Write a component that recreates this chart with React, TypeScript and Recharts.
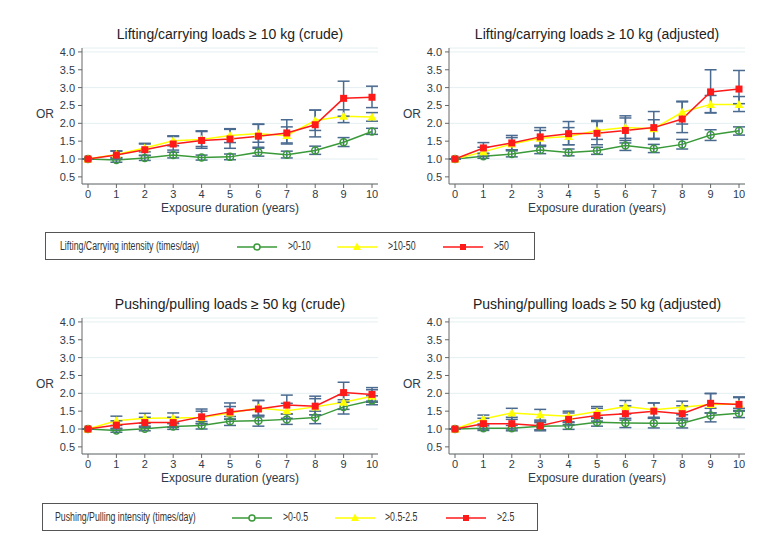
import { LineChart, Line, XAxis, YAxis, CartesianGrid, ErrorBar } from "recharts"

const years = [0, 1, 2, 3, 4, 5, 6, 7, 8, 9, 10]
const yTicks = [0.5, 1, 1.5, 2, 2.5, 3, 3.5, 4]

// Lifting/carrying, crude
const liftCrudeG = [1.0, 0.97, 1.03, 1.11, 1.04, 1.06, 1.19, 1.12, 1.24, 1.47, 1.77]
const liftCrudeGLo = [1.0, 0.91, 0.96, 1.03, 0.97, 0.98, 1.08, 1.03, 1.13, 1.35, 1.69]
const liftCrudeGHi = [1.0, 1.03, 1.1, 1.19, 1.11, 1.14, 1.3, 1.22, 1.36, 1.6, 1.86]
const liftCrudeY = [1.0, 1.13, 1.31, 1.51, 1.55, 1.66, 1.71, 1.66, 2.08, 2.2, 2.18]
const liftCrudeYLo = [1.0, 1.04, 1.2, 1.37, 1.35, 1.46, 1.47, 1.45, 1.8, 2.02, 2.06]
const liftCrudeYHi = [1.0, 1.23, 1.42, 1.65, 1.77, 1.85, 1.97, 1.9, 2.37, 2.38, 2.3]
const liftCrudeR = [1.0, 1.11, 1.26, 1.42, 1.52, 1.56, 1.64, 1.73, 1.96, 2.7, 2.73]
const liftCrudeRLo = [1.0, 1.0, 1.1, 1.25, 1.3, 1.3, 1.33, 1.42, 1.62, 2.2, 2.44]
const liftCrudeRHi = [1.0, 1.22, 1.44, 1.63, 1.79, 1.83, 1.98, 2.1, 2.37, 3.18, 3.04]

// Lifting/carrying, adjusted
const liftAdjG = [1.0, 1.08, 1.14, 1.25, 1.18, 1.23, 1.38, 1.29, 1.41, 1.67, 1.79]
const liftAdjGLo = [1.0, 1.02, 1.06, 1.15, 1.09, 1.13, 1.24, 1.18, 1.28, 1.52, 1.67]
const liftAdjGHi = [1.0, 1.15, 1.23, 1.35, 1.28, 1.33, 1.52, 1.41, 1.55, 1.82, 1.9]
const liftAdjY = [1.0, 1.2, 1.42, 1.58, 1.63, 1.8, 1.88, 1.85, 2.31, 2.53, 2.53]
const liftAdjYLo = [1.0, 1.08, 1.26, 1.38, 1.4, 1.55, 1.58, 1.58, 1.98, 2.29, 2.33]
const liftAdjYHi = [1.0, 1.33, 1.6, 1.8, 1.88, 2.05, 2.15, 2.1, 2.62, 2.78, 2.75]
const liftAdjR = [1.0, 1.31, 1.45, 1.62, 1.71, 1.72, 1.8, 1.88, 2.12, 2.88, 2.96]
const liftAdjRLo = [1.0, 1.16, 1.26, 1.38, 1.4, 1.4, 1.45, 1.55, 1.74, 2.3, 2.55]
const liftAdjRHi = [1.0, 1.46, 1.66, 1.88, 2.05, 2.08, 2.21, 2.33, 2.6, 3.5, 3.48]

// Pushing/pulling, crude
const pushCrudeG = [1.0, 0.96, 1.01, 1.07, 1.1, 1.22, 1.23, 1.27, 1.32, 1.62, 1.8]
const pushCrudeGLo = [1.0, 0.91, 0.95, 0.99, 1.0, 1.1, 1.08, 1.13, 1.15, 1.42, 1.68]
const pushCrudeGHi = [1.0, 1.02, 1.08, 1.15, 1.21, 1.35, 1.38, 1.42, 1.5, 1.82, 1.93]
const pushCrudeY = [1.0, 1.23, 1.3, 1.31, 1.32, 1.45, 1.59, 1.51, 1.62, 1.75, 1.92]
const pushCrudeYLo = [1.0, 1.1, 1.16, 1.17, 1.15, 1.27, 1.38, 1.3, 1.4, 1.55, 1.75]
const pushCrudeYHi = [1.0, 1.36, 1.44, 1.45, 1.5, 1.63, 1.8, 1.72, 1.85, 1.95, 2.1]
const pushCrudeR = [1.0, 1.11, 1.18, 1.18, 1.34, 1.48, 1.56, 1.67, 1.64, 2.02, 1.97]
const pushCrudeRLo = [1.0, 1.0, 1.05, 1.05, 1.15, 1.28, 1.34, 1.42, 1.4, 1.75, 1.78]
const pushCrudeRHi = [1.0, 1.23, 1.33, 1.33, 1.56, 1.73, 1.8, 1.95, 1.92, 2.31, 2.16]

// Pushing/pulling, adjusted
const pushAdjG = [1.0, 1.02, 1.02, 1.08, 1.09, 1.19, 1.17, 1.16, 1.16, 1.38, 1.44]
const pushAdjGLo = [1.0, 0.96, 0.95, 0.98, 0.99, 1.08, 1.04, 1.03, 1.03, 1.2, 1.32]
const pushAdjGHi = [1.0, 1.09, 1.1, 1.18, 1.2, 1.32, 1.3, 1.3, 1.3, 1.58, 1.58]
const pushAdjY = [1.0, 1.28, 1.45, 1.4, 1.36, 1.49, 1.63, 1.54, 1.61, 1.69, 1.7]
const pushAdjYLo = [1.0, 1.14, 1.27, 1.22, 1.18, 1.3, 1.42, 1.33, 1.4, 1.45, 1.52]
const pushAdjYHi = [1.0, 1.39, 1.58, 1.55, 1.5, 1.63, 1.8, 1.73, 1.78, 1.99, 1.9]
const pushAdjR = [1.0, 1.15, 1.15, 1.09, 1.27, 1.38, 1.43, 1.5, 1.43, 1.72, 1.69]
const pushAdjRLo = [1.0, 1.0, 1.0, 0.95, 1.12, 1.22, 1.25, 1.3, 1.25, 1.45, 1.5]
const pushAdjRHi = [1.0, 1.3, 1.33, 1.25, 1.45, 1.58, 1.65, 1.73, 1.65, 2.0, 1.88]

const liftLegend = ["Lifting/Carrying intensity (times/day)", ">0-10", ">10-50", ">50"]
const pushLegend = ["Pushing/Pulling intensity (times/day)", ">0-0.5", ">0.5-2.5", ">2.5"]

const GREEN = "#3a9a3a"
const YELLOW = "#ffff00"
const RED = "#ff1a1a"
const ERR = "#4a6a90"
const AXIS = "#666"
const TEXT = "#2f3b48"
const FONT = "'Liberation Sans', Arial, sans-serif"

function buildRows(s: number[][]) {
  const [g, gLo, gHi, y, yLo, yHi, r, rLo, rHi] = s
  return years.map((x, i) => ({
    x,
    g: g[i],
    gErr: [g[i] - gLo[i], gHi[i] - g[i]],
    y: y[i],
    yErr: [y[i] - yLo[i], yHi[i] - y[i]],
    r: r[i],
    rErr: [r[i] - rLo[i], rHi[i] - r[i]],
  }))
}

const circleDot = (p: any) => (
  <circle key={`c${p.index}`} cx={p.cx} cy={p.cy} r={3.5} fill="none" stroke={GREEN} strokeWidth={1.5} />
)
const triangleDot = (p: any) => (
  <polygon
    key={`t${p.index}`}
    points={`${p.cx},${p.cy - 4.5} ${p.cx + 4.5},${p.cy + 3.5} ${p.cx - 4.5},${p.cy + 3.5}`}
    fill={YELLOW}
  />
)
const squareDot = (p: any) => (
  <rect key={`s${p.index}`} x={p.cx - 3.5} y={p.cy - 3.5} width={7} height={7} fill={RED} />
)

const PLOT_W = 296
const PLOT_H = 136
const Y_W = 52

function Panel({ x, y, title, rows }: { x: number; y: number; title: string; rows: any[] }) {
  return (
    <>
      <div
        style={{
          position: "absolute", left: x + Y_W, top: y - 22, width: PLOT_W, height: 16,
          lineHeight: "16px", textAlign: "center", fontSize: 14, color: "#222", whiteSpace: "nowrap",
        }}
      >
        {title}
      </div>
      <div style={{ position: "absolute", left: x + 5, top: y + 59, width: 20, textAlign: "center", fontSize: 12, color: TEXT }}>
        OR
      </div>
      <div
        style={{
          position: "absolute", left: x + Y_W, top: y + 152, width: PLOT_W, height: 16,
          lineHeight: "16px", textAlign: "center", fontSize: 12, color: TEXT,
        }}
      >
        Exposure duration (years)
      </div>
      <div style={{ position: "absolute", left: x, top: y - 6 }}>
        <LineChart width={Y_W + PLOT_W} height={6 + PLOT_H + 20} data={rows} margin={{ top: 6, right: 0, left: 0, bottom: 0 }}>
          <CartesianGrid vertical={false} stroke="#e4eff1" />
          <XAxis
            dataKey="x" type="number" domain={[0, 10]} ticks={years} interval={0}
            padding={{ left: 6, right: 6 }} height={20} tickSize={4} tickMargin={2}
            stroke={AXIS} tick={{ fontSize: 11, fill: TEXT }}
          />
          <YAxis
            type="number" domain={[0.3, 4.11]} ticks={yTicks} allowDataOverflow width={Y_W}
            tickSize={4} tickMargin={3} stroke={AXIS} tick={{ fontSize: 11, fill: TEXT }}
            tickFormatter={(v: number) => v.toFixed(1)}
          />
          <Line dataKey="g" stroke={GREEN} strokeWidth={1.5} dot={circleDot} activeDot={false} isAnimationActive={false}>
            <ErrorBar dataKey="gErr" direction="y" stroke={ERR} strokeWidth={1.5} width={6} />
          </Line>
          <Line dataKey="y" stroke={YELLOW} strokeWidth={1.5} dot={triangleDot} activeDot={false} isAnimationActive={false}>
            <ErrorBar dataKey="yErr" direction="y" stroke={ERR} strokeWidth={1.5} width={6} />
          </Line>
          <Line dataKey="r" stroke={RED} strokeWidth={1.5} dot={squareDot} activeDot={false} isAnimationActive={false}>
            <ErrorBar dataKey="rErr" direction="y" stroke={ERR} strokeWidth={1.5} width={6} />
          </Line>
        </LineChart>
      </div>
    </>
  )
}

function LegendBox({ x, y, w, labels, pos }: { x: number; y: number; w: number; labels: string[]; pos: number[] }) {
  const colors = [GREEN, YELLOW, RED]
  // the source uses a narrow face, squeeze the text horizontally
  const txt = {
    position: "absolute" as const, top: 6, fontSize: 12, color: "#333", whiteSpace: "nowrap" as const,
    transform: "scaleX(0.73)", transformOrigin: "left center",
  }
  return (
    <div style={{ position: "absolute", left: x, top: y, width: w, height: 28, border: "1px solid #555", boxSizing: "border-box" }}>
      <div style={{ ...txt, left: pos[0] }}>{labels[0]}</div>
      {[0, 1, 2].map((i) => {
        const lx = pos[1 + i * 2]
        return (
          <div key={i}>
            <svg style={{ position: "absolute", left: lx, top: 8 }} width={40} height={12}>
              <line x1={0} y1={6} x2={40} y2={6} stroke={colors[i]} strokeWidth={1.5} />
              {i === 0 && <circle cx={20} cy={6} r={3} fill="#fff" stroke={GREEN} strokeWidth={1.5} />}
              {i === 1 && <polygon points="20,1.5 24,9 16,9" fill={YELLOW} />}
              {i === 2 && <rect x={17} y={3} width={6} height={6} fill={RED} />}
            </svg>
            <div style={{ ...txt, left: pos[2 + i * 2] }}>{labels[1 + i]}</div>
          </div>
        )
      })}
    </div>
  )
}

export default function App() {
  const liftCrude = buildRows([liftCrudeG, liftCrudeGLo, liftCrudeGHi, liftCrudeY, liftCrudeYLo, liftCrudeYHi, liftCrudeR, liftCrudeRLo, liftCrudeRHi])
  const liftAdj = buildRows([liftAdjG, liftAdjGLo, liftAdjGHi, liftAdjY, liftAdjYLo, liftAdjYHi, liftAdjR, liftAdjRLo, liftAdjRHi])
  const pushCrude = buildRows([pushCrudeG, pushCrudeGLo, pushCrudeGHi, pushCrudeY, pushCrudeYLo, pushCrudeYHi, pushCrudeR, pushCrudeRLo, pushCrudeRHi])
  const pushAdj = buildRows([pushAdjG, pushAdjGLo, pushAdjGHi, pushAdjY, pushAdjYLo, pushAdjYHi, pushAdjR, pushAdjRLo, pushAdjRHi])

  return (
    <div style={{ position: "absolute", left: 0, top: 0, width: 779, height: 551, background: "#fff", fontFamily: FONT }}>
      <Panel x={30} y={48} title="Lifting/carrying loads ≥ 10 kg (crude)" rows={liftCrude} />
      <Panel x={397} y={48} title="Lifting/carrying loads ≥ 10 kg (adjusted)" rows={liftAdj} />
      <LegendBox x={45} y={232} w={490} labels={liftLegend} pos={[14, 191, 242, 291, 342, 397, 448]} />
      <Panel x={30} y={318} title="Pushing/pulling loads ≥ 50 kg (crude)" rows={pushCrude} />
      <Panel x={397} y={318} title="Pushing/pulling loads ≥ 50 kg (adjusted)" rows={pushAdj} />
      <LegendBox x={42} y={503} w={496} labels={pushLegend} pos={[12, 189, 240, 292, 342, 403, 454]} />
    </div>
  )
}
